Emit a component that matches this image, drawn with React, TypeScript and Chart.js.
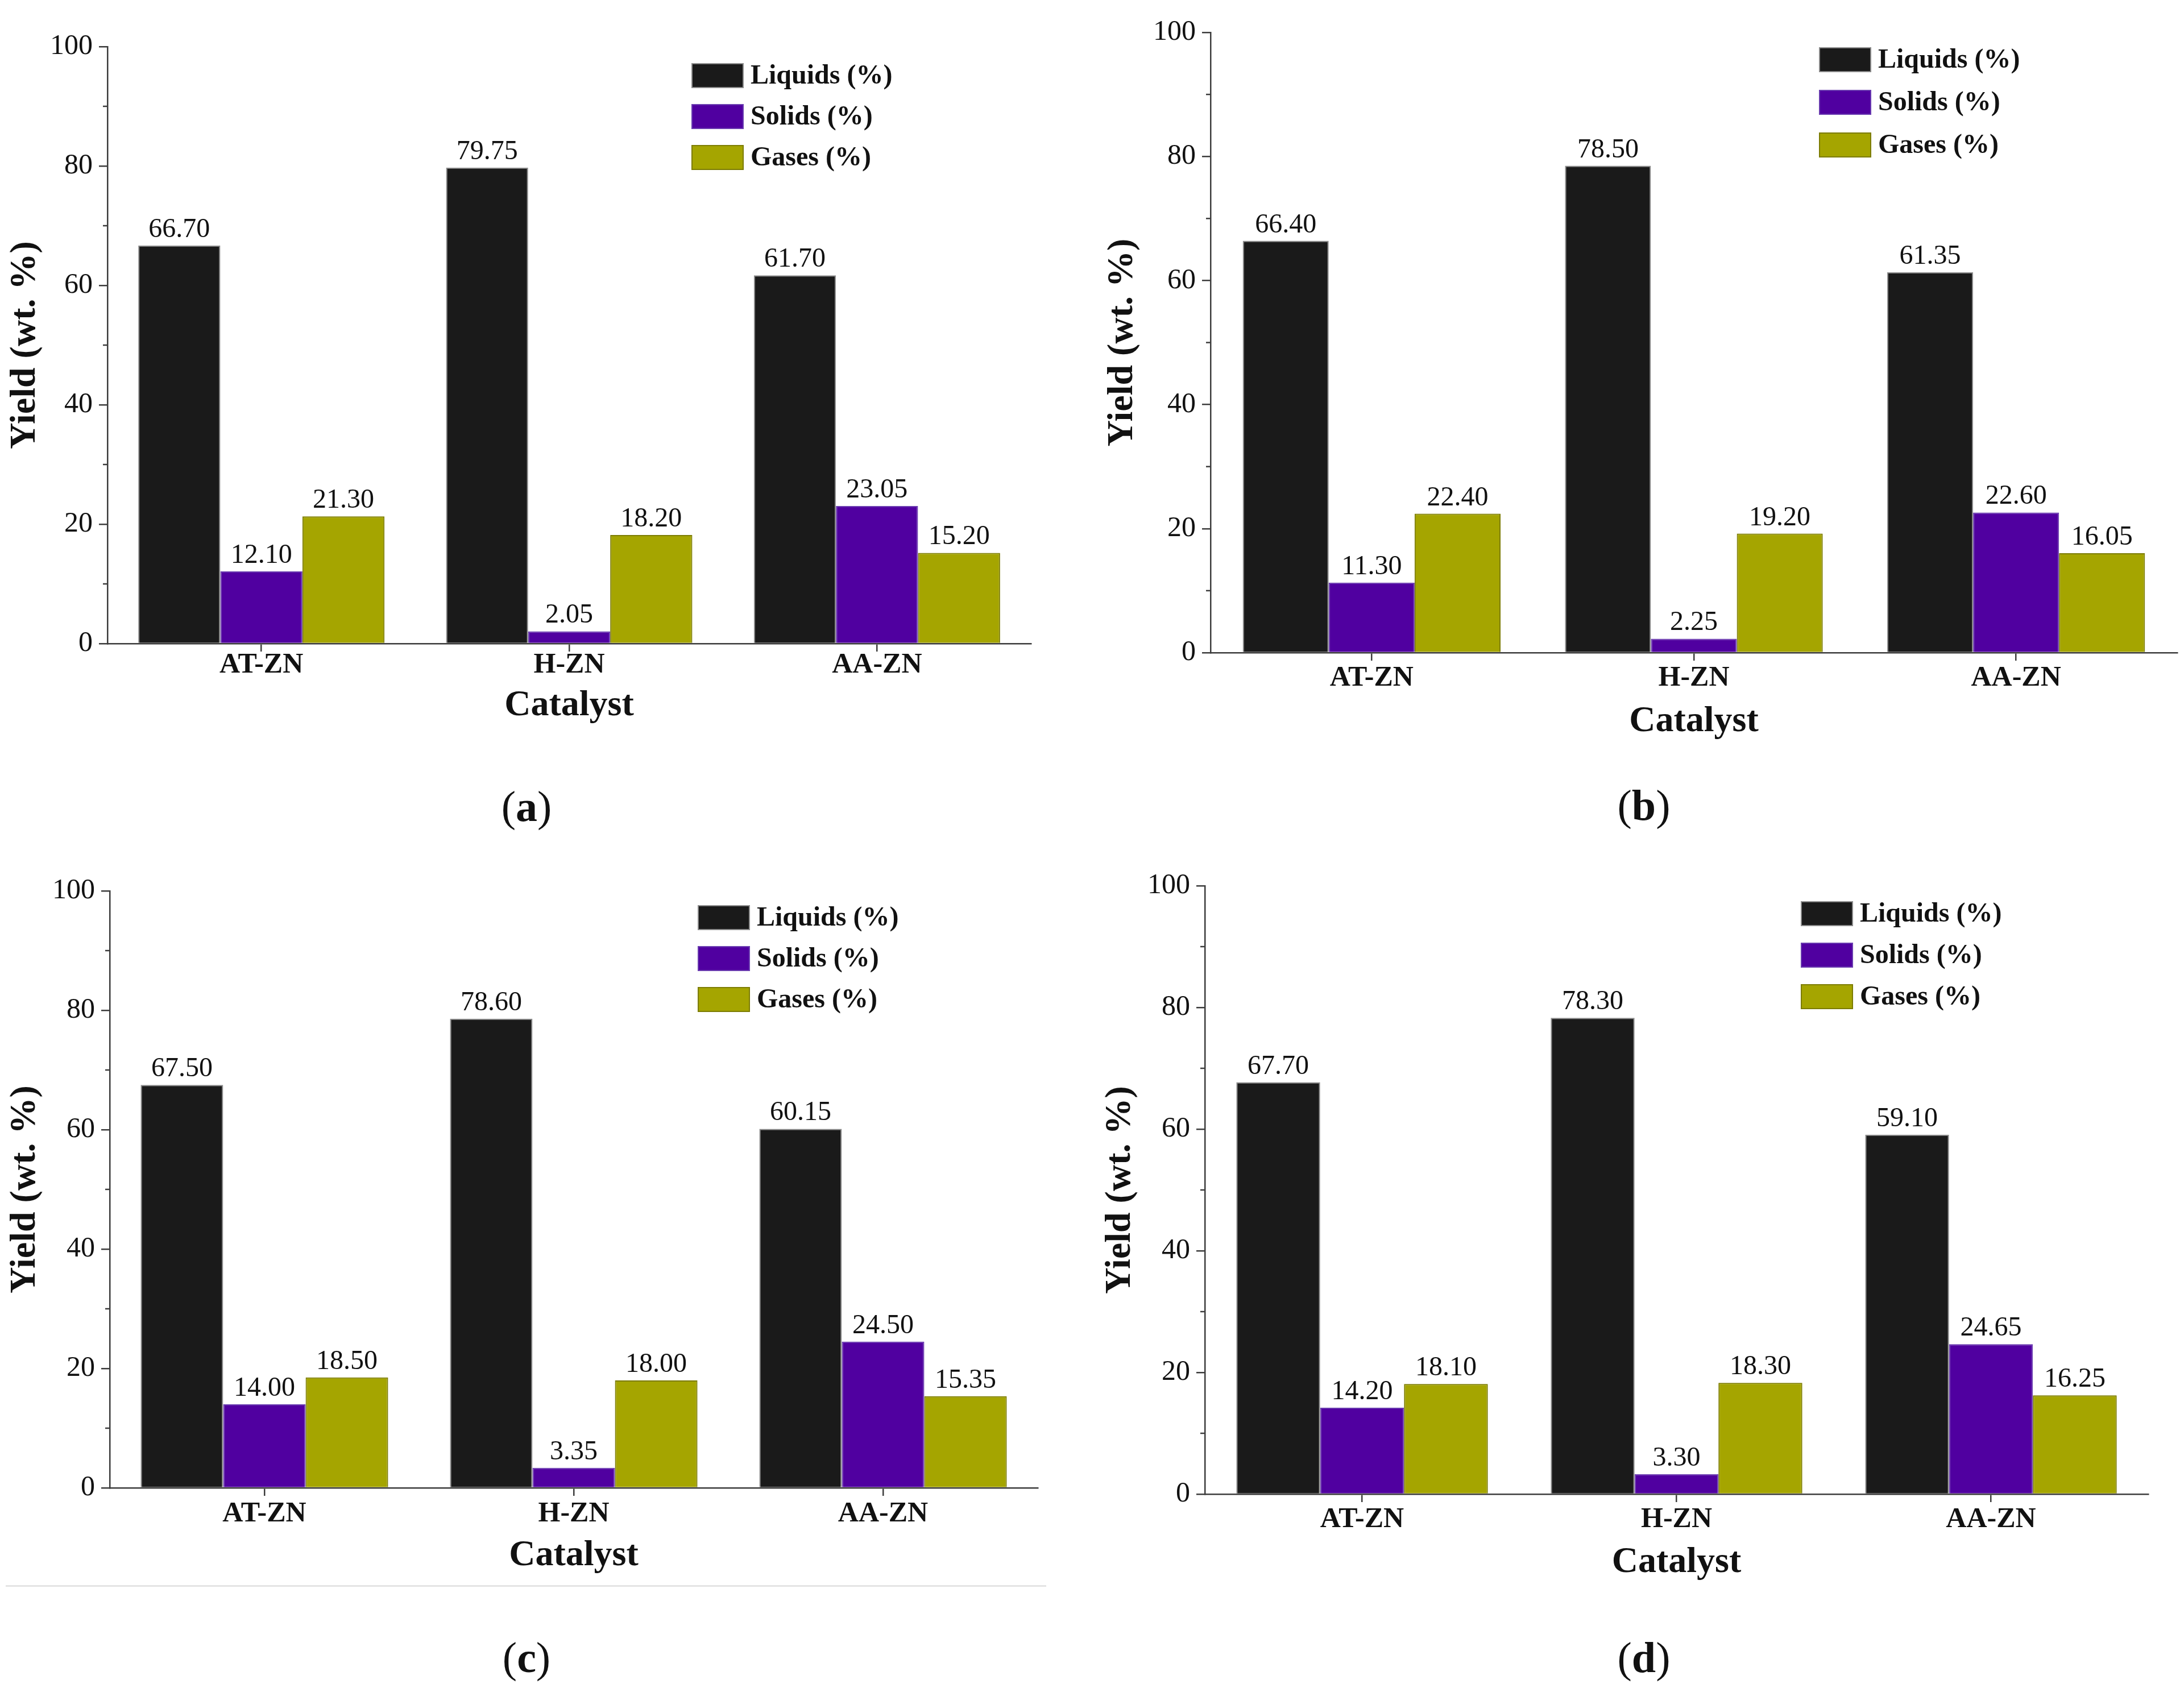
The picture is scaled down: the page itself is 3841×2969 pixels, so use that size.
import { useEffect, useRef } from "react";
import { Chart, registerables } from "chart.js";

Chart.register(...registerables);

const FONT = '"Liberation Serif", "Times New Roman", serif';
const AXIS_COLOR = "#3c3c3c";
const TEXT_COLOR = "#111111";

const catalysts = ["AT-ZN", "H-ZN", "AA-ZN"];
const seriesNames = ["Liquids (%)", "Solids (%)", "Gases (%)"];
const minorTicks = [10, 30, 50, 70, 90];

// (a)
const liquidsA = [66.7, 79.75, 61.7];
const solidsA = [12.1, 2.05, 23.05];
const gasesA = [21.3, 18.2, 15.2];
// (b)
const liquidsB = [66.4, 78.5, 61.35];
const solidsB = [11.3, 2.25, 22.6];
const gasesB = [22.4, 19.2, 16.05];
// (c)
const liquidsC = [67.5, 78.6, 60.15];
const solidsC = [14.0, 3.35, 24.5];
const gasesC = [18.5, 18.0, 15.35];
// (d)
const liquidsD = [67.7, 78.3, 59.1];
const solidsD = [14.2, 3.3, 24.65];
const gasesD = [18.1, 18.3, 16.25];

const seriesColors = ["#1a1a1a", "#5000a0", "#a5a500"];
const seriesBorders = ["#8c8c8c", "#6a3cb0", "#7c7c00"];

type Panel = {
  id: string;
  series: number[][];
  plot: { left: number; top: number; right: number; bottom: number };
  canvasTop: number;
  tickGap: number;
  titleGap: number;
  yTitleX: number;
  legendX: number;
  legendY: number;
  legendStep: number;
  caption: { x: number; y: number };
};

const panels: Panel[] = [
  {
    id: "a",
    series: [liquidsA, solidsA, gasesA],
    plot: { left: 189, top: 82, right: 1813, bottom: 1132 },
    canvasTop: 0,
    tickGap: 38,
    titleGap: 109,
    yTitleX: 44,
    legendX: 1027,
    legendY: 51,
    legendStep: 72,
    caption: { x: 926, y: 1418 },
  },
  {
    id: "b",
    series: [liquidsB, solidsB, gasesB],
    plot: { left: 2129, top: 57, right: 3829, bottom: 1148 },
    canvasTop: 0,
    tickGap: 45,
    titleGap: 121,
    yTitleX: 1974,
    legendX: 1070,
    legendY: 48,
    legendStep: 75,
    caption: { x: 2891, y: 1416 },
  },
  {
    id: "c",
    series: [liquidsC, solidsC, gasesC],
    plot: { left: 193, top: 1567, right: 1825, bottom: 2617 },
    canvasTop: 1460,
    tickGap: 46,
    titleGap: 119,
    yTitleX: 44,
    legendX: 1034,
    legendY: 47,
    legendStep: 72,
    caption: { x: 926, y: 2915 },
  },
  {
    id: "d",
    series: [liquidsD, solidsD, gasesD],
    plot: { left: 2119, top: 1558, right: 3778, bottom: 2628 },
    canvasTop: 1460,
    tickGap: 45,
    titleGap: 120,
    yTitleX: 1970,
    legendX: 1048,
    legendY: 49,
    legendStep: 73,
    caption: { x: 2891, y: 2915 },
  },
];

const valueLabels = {
  id: "valueLabels",
  afterDatasetsDraw(chart: Chart) {
    const ctx = chart.ctx;
    ctx.save();
    ctx.font = `48px ${FONT}`;
    ctx.fillStyle = TEXT_COLOR;
    ctx.textAlign = "center";
    ctx.textBaseline = "alphabetic";
    chart.data.datasets.forEach((ds, i) => {
      chart.getDatasetMeta(i).data.forEach((bar: any, j) => {
        const v = ds.data[j] as number;
        ctx.fillText(v.toFixed(2), bar.x, bar.y - 15);
      });
    });
    ctx.restore();
  },
};

const minorTickMarks = {
  id: "minorTickMarks",
  afterDraw(chart: Chart) {
    const ctx = chart.ctx;
    const y = chart.scales.y;
    const left = chart.chartArea.left;
    ctx.save();
    ctx.strokeStyle = AXIS_COLOR;
    ctx.lineWidth = 2.5;
    minorTicks.forEach((v) => {
      const py = y.getPixelForValue(v);
      ctx.beginPath();
      ctx.moveTo(left - 8, py);
      ctx.lineTo(left, py);
      ctx.stroke();
    });
    ctx.restore();
  },
};

const boxLegend = {
  id: "boxLegend",
  afterDraw(chart: Chart, _args: any, opts: any) {
    const ctx = chart.ctx;
    const { left, top } = chart.chartArea;
    ctx.save();
    ctx.font = `bold 48px ${FONT}`;
    ctx.textAlign = "left";
    ctx.textBaseline = "middle";
    chart.data.datasets.forEach((ds: any, i) => {
      const cy = top + opts.y + i * opts.step;
      const bx = left + opts.x;
      ctx.fillStyle = ds.backgroundColor;
      ctx.fillRect(bx, cy - 22, 92, 44);
      ctx.strokeStyle = ds.borderColor;
      ctx.lineWidth = 2;
      ctx.strokeRect(bx + 1, cy - 21, 90, 42);
      ctx.fillStyle = TEXT_COLOR;
      ctx.fillText(ds.label, bx + 104, cy + 2);
    });
    ctx.restore();
  },
};

function BarPanel({ panel }: { panel: Panel }) {
  const canvasRef = useRef<HTMLCanvasElement | null>(null);

  const cLeft = panel.plot.left - 189;
  const cRight = Math.min(3841, panel.plot.right + 28);
  const cTop = panel.canvasTop;
  const cBottom = panel.plot.bottom + panel.titleGap + 36;
  const width = cRight - cLeft;
  const height = cBottom - cTop;

  useEffect(() => {
    if (!canvasRef.current) return;
    const yWidth = panel.plot.left - cLeft;
    const xHeight = cBottom - panel.plot.bottom;
    const chart = new Chart(canvasRef.current, {
      type: "bar",
      data: {
        labels: catalysts,
        datasets: seriesNames.map((name, i) => ({
          label: name,
          data: panel.series[i],
          backgroundColor: seriesColors[i],
          borderColor: seriesBorders[i],
          borderWidth: 2,
          categoryPercentage: 0.8,
          barPercentage: 1.0,
        })),
      },
      options: {
        animation: false,
        responsive: false,
        devicePixelRatio: 1,
        events: [],
        layout: {
          padding: {
            left: 0,
            top: panel.plot.top - cTop,
            right: cRight - panel.plot.right,
            bottom: 0,
          },
        },
        plugins: {
          legend: { display: false },
          tooltip: { enabled: false },
          // @ts-ignore
          boxLegend: { x: panel.legendX, y: panel.legendY, step: panel.legendStep },
        },
        scales: {
          x: {
            offset: true,
            grid: {
              offset: false,
              drawOnChartArea: false,
              drawTicks: true,
              tickLength: 14,
              color: AXIS_COLOR,
              lineWidth: 2.5,
            },
            border: { display: true, color: AXIS_COLOR, width: 2.5 },
            ticks: {
              font: { family: FONT, size: 50, weight: "bold", lineHeight: 1 },
              color: TEXT_COLOR,
              padding: panel.tickGap - 14 - 25,
              maxRotation: 0,
              autoSkip: false,
            },
            title: {
              display: true,
              text: "Catalyst",
              color: TEXT_COLOR,
              font: { family: FONT, size: 64, weight: "bold", lineHeight: 1 },
              padding: { top: 0, bottom: 4 },
            },
            afterFit: (s: any) => {
              s.height = xHeight;
            },
          },
          y: {
            min: 0,
            max: 100,
            ticks: {
              stepSize: 20,
              font: { family: FONT, size: 50, lineHeight: 1 },
              color: TEXT_COLOR,
              padding: 11,
            },
            grid: {
              drawOnChartArea: false,
              drawTicks: true,
              tickLength: 15,
              color: AXIS_COLOR,
              lineWidth: 2.5,
            },
            border: { display: true, color: AXIS_COLOR, width: 2.5 },
            title: {
              display: true,
              text: "Yield (wt. %)",
              color: TEXT_COLOR,
              font: { family: FONT, size: 64, weight: "bold", lineHeight: 1 },
              padding: { top: panel.yTitleX - cLeft - 32, bottom: 0 },
            },
            afterFit: (s: any) => {
              s.width = yWidth;
            },
          },
        },
      },
      plugins: [valueLabels, minorTickMarks, boxLegend],
    });
    return () => chart.destroy();
  }, []);

  return (
    <>
      <canvas
        ref={canvasRef}
        width={width}
        height={height}
        style={{ position: "absolute", left: cLeft, top: cTop, width, height }}
      />
      <div
        style={{
          position: "absolute",
          left: panel.caption.x,
          top: panel.caption.y,
          transform: "translate(-50%, -50%)",
          fontSize: 76,
          lineHeight: 1,
          color: TEXT_COLOR,
          whiteSpace: "nowrap",
        }}
      >
        (<b>{panel.id}</b>)
      </div>
    </>
  );
}

export default function App() {
  return (
    <div
      style={{
        position: "absolute",
        left: 0,
        top: 0,
        width: 3841,
        height: 2969,
        background: "#ffffff",
        overflow: "hidden",
        fontFamily: FONT,
      }}
    >
      {panels.map((p) => (
        <BarPanel key={p.id} panel={p} />
      ))}
      <div
        style={{
          position: "absolute",
          left: 10,
          top: 2788,
          width: 1830,
          height: 3,
          background: "#e4e4e4",
        }}
      />
    </div>
  );
}
